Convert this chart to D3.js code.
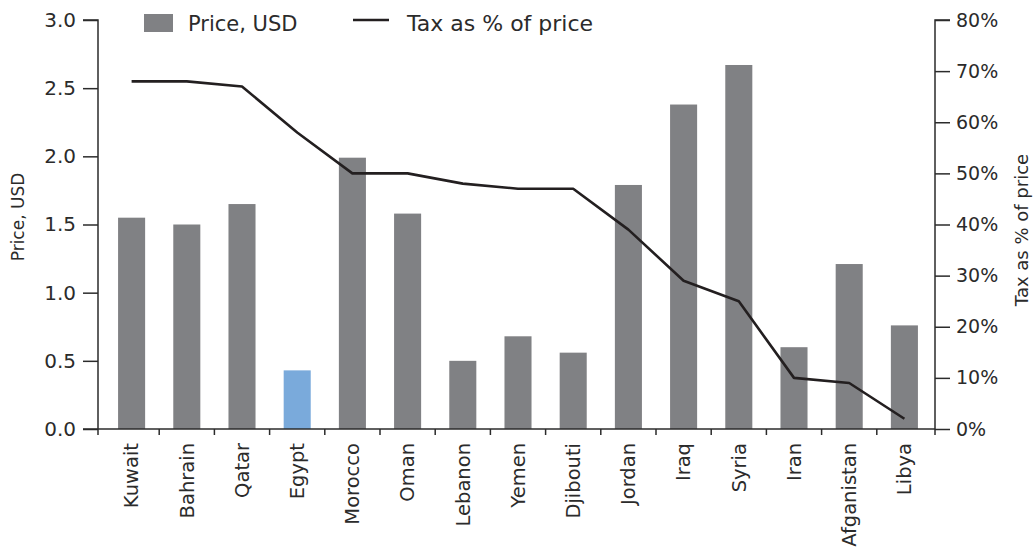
<!DOCTYPE html>
<html>
<head>
<meta charset="utf-8">
<script src="https://cdn.jsdelivr.net/npm/d3@7"></script>
<style>
  html, body { margin: 0; padding: 0; background: #fff; }
  svg { display: block; }
  text { font-family: "DejaVu Sans", sans-serif; fill: #2b2b2b; }
</style>
</head>
<body>
<svg id="chart" width="1036" height="549"></svg>
<script>
const categories = ["Kuwait","Bahrain","Qatar","Egypt","Morocco","Oman","Lebanon","Yemen","Djibouti","Jordan","Iraq","Syria","Iran","Afganistan","Libya"];
const priceUSD = [1.55, 1.50, 1.65, 0.43, 1.99, 1.58, 0.50, 0.68, 0.56, 1.79, 2.38, 2.67, 0.60, 1.21, 0.76];
const taxPct   = [68, 68, 67, 58, 50, 50, 48, 47, 47, 39, 29, 25, 10, 9, 2];
const highlight = ["Egypt"];
const leftTicks = [0, 0.5, 1.0, 1.5, 2.0, 2.5, 3.0];
const rightTicks = [0, 10, 20, 30, 40, 50, 60, 70, 80];
const leftTitle = "Price, USD";
const rightTitle = "Tax as % of price";

const svg = d3.select("#chart");
const axL = 98, axR = 935, plotTop = 20, plotBottom = 429;
const ink = "#2b2b2b";

const x = d3.scaleBand().domain(categories).range([104, 932]).paddingInner(0.51).paddingOuter(0.255);
const yL = d3.scaleLinear().domain([0, 3]).range([plotBottom, plotTop]);
const yR = d3.scaleLinear().domain([0, 80]).range([plotBottom, plotTop]);

// bars
svg.append("g").selectAll("rect").data(categories).join("rect")
  .attr("x", d => x(d))
  .attr("width", x.bandwidth())
  .attr("y", (d, i) => yL(priceUSD[i]))
  .attr("height", (d, i) => plotBottom - yL(priceUSD[i]))
  .attr("fill", d => highlight.includes(d) ? "#7aaadb" : "#808184");

// line
const line = d3.line().x((d, i) => x(categories[i]) + x.bandwidth() / 2).y(d => yR(d));
svg.append("path").datum(taxPct).attr("d", line)
  .attr("fill", "none").attr("stroke", "#231f20").attr("stroke-width", 2.6).attr("stroke-linejoin", "round");

// left axis
const gL = svg.append("g").attr("transform", `translate(${axL},0)`)
  .call(d3.axisLeft(yL).tickValues(leftTicks).tickFormat(d3.format(".1f")).tickSize(15).tickPadding(7));
gL.select(".domain").attr("stroke", ink).attr("stroke-width", 1.5).attr("d", `M-15,${plotTop}H0V${plotBottom}`);
gL.selectAll(".tick line").attr("stroke", ink).attr("stroke-width", 1.5);
gL.selectAll(".tick text").attr("font-size", 20).attr("fill", ink).style("font-family", "DejaVu Sans");

// right axis
const gR = svg.append("g").attr("transform", `translate(${axR},0)`)
  .call(d3.axisRight(yR).tickValues(rightTicks).tickFormat(d => d + "%").tickSize(15).tickPadding(6));
gR.select(".domain").attr("stroke", ink).attr("stroke-width", 1.5).attr("d", `M15,${plotTop}H0V${plotBottom}`);
gR.selectAll(".tick line").attr("stroke", ink).attr("stroke-width", 1.5);
gR.selectAll(".tick text").attr("font-size", 19).attr("fill", ink);

// bottom axis
const gB = svg.append("g").attr("transform", `translate(0,${plotBottom})`)
  .call(d3.axisBottom(x).tickSize(0).tickPadding(0));
gB.select(".domain").remove();
gB.selectAll(".tick text")
  .attr("font-size", 19.5).attr("fill", ink)
  .attr("text-anchor", "end")
  .attr("transform", "translate(0,14) rotate(-90)")
  .attr("dy", "0.35em").attr("y", 0).attr("x", 0);
svg.append("line").attr("x1", axL - 15).attr("x2", axR).attr("y1", plotBottom).attr("y2", plotBottom)
  .attr("stroke", ink).attr("stroke-width", 1.5);
const bounds = categories.map((c, i) => i === 0 ? axL : x(c) - x.step() * x.paddingInner() / 2).concat([axR]);
svg.append("g").selectAll("line").data(bounds).join("line")
  .attr("x1", d => d).attr("x2", d => d).attr("y1", plotBottom).attr("y2", plotBottom + 6)
  .attr("stroke", ink).attr("stroke-width", 1.5);

// axis titles
svg.append("text").attr("transform", `translate(24,217) rotate(-90)`)
  .attr("text-anchor", "middle").attr("font-size", 17).text(leftTitle);
svg.append("text").attr("transform", `translate(1028,230) rotate(-90)`)
  .attr("text-anchor", "middle").attr("font-size", 18).text(rightTitle);

// legend
const lg = svg.append("g");
lg.append("rect").attr("x", 144).attr("y", 14).attr("width", 29).attr("height", 18).attr("fill", "#808184");
lg.append("text").attr("x", 188).attr("y", 31).attr("font-size", 21).text(leftTitle);
lg.append("line").attr("x1", 353).attr("x2", 389).attr("y1", 20).attr("y2", 20)
  .attr("stroke", "#231f20").attr("stroke-width", 2.6);
lg.append("text").attr("x", 407).attr("y", 31).attr("font-size", 22).text(rightTitle);
</script>
</body>
</html>
